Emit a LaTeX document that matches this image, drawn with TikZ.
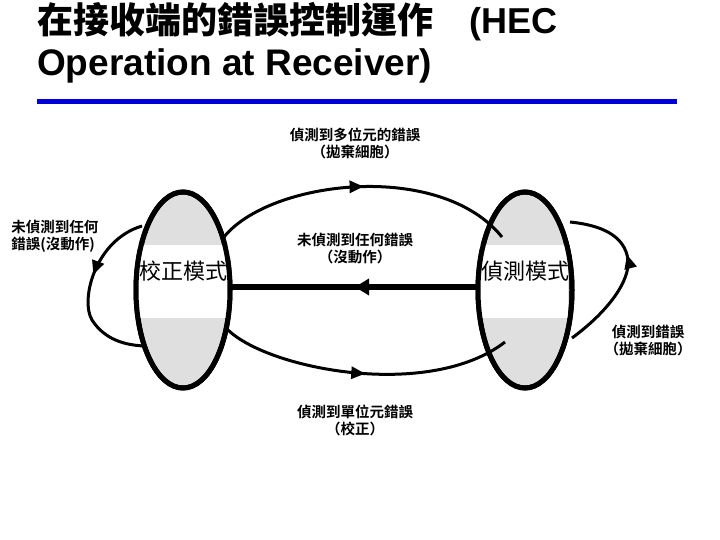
\documentclass[tikz,border=0pt]{standalone}
\usepackage{fontspec}
\setmainfont{Liberation Sans}
\newfontfamily\cjk{Noto Sans CJK TC}
\newfontfamily\cjkb{Noto Sans CJK TC Bold}
\usetikzlibrary{decorations.markings,arrows.meta,shapes.geometric}
\begin{document}
\begin{tikzpicture}[x=1pt,y=-1pt,
  mode/.style={draw=black,line width=5pt,fill=gray!25,ellipse,minimum width=94pt,minimum height=196pt,inner sep=0pt},
  rim/.style={draw=black,line width=5pt,ellipse,minimum width=94pt,minimum height=196pt,inner sep=0pt},
  lbl/.style={font=\cjkb\fontsize{14.5}{17}\selectfont,align=center,inner sep=1pt},
  arc/.style={line width=3pt,postaction={decorate},decoration={markings,mark=at position #1 with {\arrow{Triangle[length=14pt,width=12pt]}}}},
]
\useasboundingbox (0,0) rectangle (720,540);
\node[anchor=west,font=\bfseries\fontsize{36}{38}\selectfont,inner sep=0] (t1) at (37,22) {{\cjkb 在接收端的錯誤控制運作}\quad(HEC};
\node[anchor=west,font=\bfseries\fontsize{37}{40}\selectfont,inner sep=0] (t2) at (37,66) {Operation at Receiver)};
\fill[blue!85!black] (37,99) rectangle (677,104);
\node[mode] (L) at (183,290) {};
\node[mode] (R) at (525,290) {};
\fill[white] (138,245) rectangle (230,318);
\fill[white] (480,245) rectangle (568,318);
\node[rim] (L2) at (183,290) {};
\node[rim] (R2) at (525,290) {};
\node[font=\cjk\fontsize{22}{24}\selectfont,anchor=west] (lt) at (136,271) {校正模式};
\node[font=\cjk\fontsize{22}{24}\selectfont,anchor=west] (rt) at (478,271) {偵測模式};
\coordinate (Lt) at (224,237); \coordinate (Rt) at (502,237);
\coordinate (Lb) at (228,330); \coordinate (Rb) at (505,342);
\draw[arc=0.5] (Lt) .. controls (270,180) and (440,160) .. (Rt);
\draw[arc=0.5] (Lb) .. controls (270,370) and (430,400) .. (Rb);
\coordinate (Rm) at (478,287); \coordinate (Lm) at (232,287);
\draw[line width=6pt,postaction={decorate},decoration={markings,mark=at position 0.5 with {\arrow{Triangle[length=14pt,width=16pt]}}}] (Rm) -- (Lm);
\coordinate (Lu) at (142,226); \coordinate (Ld) at (144,346);
\draw[arc=0.4] (Lu) .. controls (95,240) and (80,300) .. (92,320) .. controls (105,340) and (125,345) .. (Ld);
\coordinate (Ru) at (570,222); \coordinate (Rd) at (572,338);
\draw[arc=0.6] (Rd) .. controls (610,310) and (630,280) .. (628,260) .. controls (625,235) and (600,225) .. (Ru);
\node[lbl] (a) at (355,143) {偵測到多位元的錯誤\\（拋棄細胞）};
\node[lbl] (b) at (355,249) {未偵測到任何錯誤\\（沒動作）};
\node[lbl] (c) at (355,420) {偵測到單位元錯誤\\（校正）};
\node[lbl,align=left] (d) at (55,236) {未偵測到任何\\錯誤(沒動作)};
\node[lbl] (e) at (648,341) {偵測到錯誤\\（拋棄細胞）};
\end{tikzpicture}
\end{document}
